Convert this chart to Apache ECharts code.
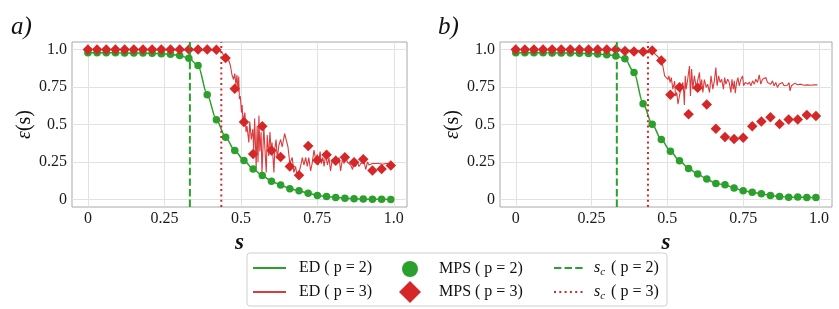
<!DOCTYPE html>
<html><head><meta charset="utf-8">
<script src="https://cdn.jsdelivr.net/npm/echarts@6/dist/echarts.min.js"></script>
<style>html,body{margin:0;padding:0;background:#fff}#c{width:839px;height:309px}</style>
</head><body><div id="c"></div>
<script>
// ---------- data ----------
const sMps = [0,0.03,0.06,0.09,0.12,0.15,0.18,0.21,0.24,0.27,0.30,0.33,0.36,0.39,0.42,0.45,0.48,0.51,0.54,0.57,0.60,0.63,0.66,0.69,0.72,0.75,0.78,0.81,0.84,0.87,0.90,0.93,0.96,0.99];
// panel a
const mps2A = [0.978,0.978,0.978,0.978,0.977,0.977,0.976,0.975,0.972,0.968,0.960,0.942,0.893,0.698,0.531,0.415,0.327,0.260,0.204,0.160,0.122,0.096,0.071,0.058,0.042,0.027,0.020,0.013,0.009,0.005,0.003,0.001,0.001,0.000];
const mps3A = [1,1,1,1,1,1,1,1,1,1,1,1,1,1,0.998,0.943,0.738,0.516,0.304,0.489,0.327,0.284,0.220,0.162,0.356,0.262,0.298,0.258,0.282,0.249,0.269,0.193,0.204,0.227];
const ed2A = [0.978,0.978,0.978,0.978,0.977,0.977,0.976,0.975,0.972,0.968,0.960,0.942,0.893,0.698,0.531,0.415,0.327,0.260,0.204,0.160,0.122,0.096,0.071,0.058,0.042,0.027,0.020,0.013,0.009,0.005,0.003,0.001,0.001,0.000];
const sEd3A = [0,0.43,0.438,0.449,0.46,0.466,0.471,0.476,0.48,0.484,0.487,0.491,0.493,0.495,0.498,0.502,0.504,0.507,0.513,0.517,0.52,0.526,0.529,0.534,0.539,0.542,0.545,0.55,0.553,0.556,0.559,0.562,0.566,0.569,0.575,0.578,0.583,0.586,0.591,0.595,0.599,0.602,0.608,0.611,0.615,0.619,0.624,0.63,0.635,0.643,0.646,0.649,0.654,0.66,0.668,0.673,0.679,0.684,0.69,0.695,0.701,0.706,0.712,0.717,0.722,0.728,0.733,0.739,0.744,0.75,0.753,0.759,0.763,0.768,0.772,0.777,0.783,0.788,0.793,0.799,0.804,0.81,0.815,0.821,0.826,0.832,0.837,0.843,0.848,0.854,0.859,0.865,0.87,0.875,0.881,0.886,0.892,0.897,0.903,0.908,0.914,0.919,0.925,0.93,0.941,0.952,0.963,0.974,0.99];
const ed3A = [1.0,0.995,0.98,0.945,0.93,0.89,0.83,0.80,0.84,0.76,0.83,0.72,0.82,0.67,0.69,0.58,0.63,0.52,0.58,0.45,0.49,0.38,0.52,0.40,0.47,0.32,0.54,0.21,0.49,0.25,0.56,0.32,0.45,0.18,0.49,0.36,0.18,0.43,0.29,0.45,0.32,0.38,0.18,0.34,0.40,0.27,0.36,0.40,0.35,0.44,0.44,0.43,0.35,0.24,0.28,0.18,0.22,0.15,0.18,0.22,0.28,0.23,0.28,0.22,0.28,0.19,0.24,0.33,0.27,0.30,0.23,0.32,0.24,0.28,0.22,0.30,0.23,0.28,0.19,0.27,0.25,0.29,0.24,0.28,0.19,0.27,0.24,0.28,0.25,0.26,0.23,0.20,0.25,0.22,0.25,0.22,0.24,0.25,0.25,0.20,0.25,0.23,0.24,0.24,0.24,0.24,0.235,0.24,0.24];
// panel b
const mps2B = [0.978,0.978,0.978,0.978,0.977,0.977,0.976,0.975,0.973,0.970,0.965,0.957,0.938,0.847,0.638,0.502,0.400,0.321,0.259,0.207,0.170,0.137,0.106,0.099,0.076,0.059,0.049,0.038,0.027,0.020,0.015,0.016,0.013,0.013];
const mps3B = [1,1,1,1,1,1,1,1,1,1,1,1,0.990,0.987,0.985,0.993,0.927,0.698,0.749,0.569,0.745,0.633,0.471,0.416,0.404,0.411,0.489,0.520,0.549,0.504,0.533,0.533,0.564,0.556];
const ed2B = [0.978,0.978,0.978,0.978,0.977,0.977,0.976,0.975,0.973,0.970,0.965,0.957,0.938,0.847,0.638,0.502,0.400,0.321,0.259,0.207,0.170,0.137,0.106,0.099,0.076,0.059,0.049,0.038,0.027,0.020,0.015,0.016,0.013,0.013];
const sEd3B = [0,0.40,0.4085,0.452,0.48,0.485,0.491,0.496,0.502,0.505,0.509,0.513,0.518,0.524,0.527,0.531,0.535,0.538,0.542,0.546,0.551,0.554,0.556,0.559,0.562,0.567,0.573,0.576,0.58,0.584,0.589,0.595,0.60,0.606,0.609,0.613,0.617,0.622,0.628,0.633,0.639,0.644,0.65,0.655,0.66,0.664,0.669,0.674,0.679,0.685,0.689,0.693,0.699,0.704,0.7097,0.713,0.7174,0.7207,0.724,0.7284,0.7328,0.7371,0.7426,0.7481,0.7514,0.7569,0.7612,0.7667,0.77,0.7755,0.781,0.7864,0.7919,0.7974,0.8029,0.8083,0.8138,0.8193,0.8247,0.8302,0.8357,0.8412,0.8466,0.8521,0.8576,0.863,0.8685,0.874,0.8795,0.8849,0.8904,0.8959,0.9013,0.9046,0.909,0.9145,0.921,0.9287,0.9397,0.9506,0.9616,0.9726,0.9835,0.995];
const ed3B = [1.0,0.995,0.991,0.984,0.93,0.89,0.824,0.836,0.80,0.824,0.78,0.813,0.735,0.79,0.69,0.713,0.636,0.67,0.713,0.747,0.78,0.713,0.63,0.824,0.736,0.80,0.89,0.69,0.87,0.736,0.824,0.747,0.76,0.847,0.736,0.80,0.713,0.80,0.747,0.769,0.713,0.824,0.736,0.791,0.88,0.758,0.824,0.78,0.802,0.736,0.813,0.769,0.802,0.78,0.713,0.802,0.736,0.791,0.709,0.78,0.813,0.758,0.802,0.824,0.758,0.78,0.791,0.769,0.784,0.758,0.791,0.769,0.802,0.78,0.831,0.769,0.802,0.791,0.813,0.78,0.791,0.769,0.791,0.758,0.78,0.747,0.769,0.762,0.78,0.758,0.769,0.762,0.78,0.724,0.758,0.769,0.776,0.765,0.769,0.762,0.764,0.762,0.764,0.764];
// critical points
const sc2 = 0.3333, sc3 = 0.436;
const yLim = [-0.05, 1.05];
const xLim = [-0.052, 1.043];
const tickVals = [0, 0.25, 0.5, 0.75, 1.0];
const tickLabels = ['0', '0.25', '0.5', '0.75', '1.0'];

// ---------- chart ----------
const FONT = '"Liberation Serif", "DejaVu Serif", serif';
const GREEN = '#2ca02c', RED = '#d62728';
const pairs = (xs, ys) => xs.map((x, i) => [x, ys[i]]);
const fmt = v => { for (let i = 0; i < tickVals.length; i++) if (Math.abs(v - tickVals[i]) < 1e-6) return tickLabels[i]; return ''; };

const chart = echarts.init(document.getElementById('c'));

function xAx(i) {
  return {
    type: 'value', gridIndex: i, min: xLim[0], max: xLim[1],
    axisLine: { show: false }, axisTick: { show: false, customValues: tickVals },
    axisLabel: { customValues: tickVals, formatter: fmt, fontFamily: FONT, fontSize: 16, color: '#1a1a1a', margin: 4 },
    splitLine: { show: true, lineStyle: { color: '#e2e2e2', width: 1 } },
    name: 's', nameLocation: 'middle', nameGap: 16,
    nameTextStyle: { fontFamily: FONT, fontSize: 23, fontStyle: 'italic', fontWeight: 'bold', color: '#111' }
  };
}
function yAx(i) {
  return {
    type: 'value', gridIndex: i, min: yLim[0], max: yLim[1],
    axisLine: { show: false }, axisTick: { show: false, customValues: tickVals },
    axisLabel: { customValues: tickVals, formatter: fmt, fontFamily: FONT, fontSize: 16, color: '#1a1a1a', margin: 5 },
    splitLine: { show: true, lineStyle: { color: '#e2e2e2', width: 1 } },
    name: '{e|ε}(s)', nameLocation: 'middle', nameGap: 36, nameRotate: 90,
    nameTextStyle: { fontFamily: FONT, fontSize: 20, color: '#111',
      rich: { e: { fontFamily: FONT, fontSize: 20, fontStyle: 'italic', color: '#111' } } }
  };
}
function seriesFor(i, ed2, ed3s, ed3, m2, m3) {
  return [
    { name: 'ED ( p = 2)', type: 'line', xAxisIndex: i, yAxisIndex: i, data: pairs(sMps, ed2),
      symbol: 'none', smooth: 0.3, smoothMonotone: 'x', lineStyle: { color: GREEN, width: 1.5 }, itemStyle: { color: GREEN }, z: 2 },
    { name: 'ED ( p = 3)', type: 'line', xAxisIndex: i, yAxisIndex: i, data: pairs(ed3s, ed3),
      symbol: 'none', lineStyle: { color: RED, width: 1.1, opacity: 0.9 }, itemStyle: { color: RED }, z: 2 },
    { name: 'MPS ( p = 2)', type: 'scatter', xAxisIndex: i, yAxisIndex: i, data: pairs(sMps, m2),
      symbol: 'circle', symbolSize: 7.5, itemStyle: { color: GREEN, opacity: 1 }, z: 3 },
    { name: 'MPS ( p = 3)', type: 'scatter', xAxisIndex: i, yAxisIndex: i, data: pairs(sMps, m3),
      symbol: 'diamond', symbolSize: 10.5, itemStyle: { color: RED, opacity: 1 }, z: 4 },
    { name: 's_c ( p = 2)', type: 'line', xAxisIndex: i, yAxisIndex: i, data: [[sc2, yLim[0]], [sc2, yLim[1]]],
      symbol: 'none', lineStyle: { color: GREEN, width: 2, type: [7.4, 3.2] }, itemStyle: { color: GREEN }, z: 6 },
    { name: 's_c ( p = 3)', type: 'line', xAxisIndex: i, yAxisIndex: i, data: [[sc3, yLim[0]], [sc3, yLim[1]]],
      symbol: 'none', lineStyle: { color: RED, width: 2, type: [2, 3.3] }, itemStyle: { color: RED }, z: 6 }
  ];
}
const legText = { fontFamily: FONT, fontSize: 16, color: '#111', lineHeight: 18,
  rich: { i: { fontFamily: FONT, fontSize: 16, fontStyle: 'italic', color: '#111' },
          sub: { fontFamily: FONT, fontSize: 11, fontStyle: 'italic', color: '#111', padding: [8, 2, 0, 0] } } };
function leg(name, left, top, w, h, pad, isLine) {
  const item = isLine ? { name: name, itemStyle: { opacity: 0 }, lineStyle: { width: 2 } } : { name: name };
  return { data: [item], left: left, top: top, itemWidth: w, itemHeight: h, padding: 0, selectedMode: false,
    formatter: n => n.replace('s_c', '{i|s}{sub|c}'),
    textStyle: Object.assign({}, legText, { padding: [0, 0, 0, pad] }) };
}

chart.setOption({
  animation: false,
  backgroundColor: '#fff',
  title: [
    { text: 'a)', left: 6, top: 10, textStyle: { fontFamily: FONT, fontStyle: 'italic', fontWeight: 'normal', fontSize: 25, color: '#111' } },
    { text: 'b)', left: 433, top: 10, textStyle: { fontFamily: FONT, fontStyle: 'italic', fontWeight: 'normal', fontSize: 25, color: '#111' } }
  ],
  grid: [
    { left: 72, top: 42, width: 335, height: 165, show: true, borderColor: '#a8a8a8', borderWidth: 1 },
    { left: 500, top: 42, width: 332, height: 165, show: true, borderColor: '#a8a8a8', borderWidth: 1 }
  ],
  xAxis: [xAx(0), xAx(1)],
  yAxis: [yAx(0), yAx(1)],
  legend: [
    leg('ED ( p = 2)', 252, 259, 33, 14, 8, true),
    leg('ED ( p = 3)', 252, 283, 33, 14, 8, true),
    leg('MPS ( p = 2)', 402, 260, 16, 16, 16, false),
    leg('MPS ( p = 3)', 399, 281, 22, 22, 13, false),
    leg('s_c ( p = 2)', 553, 259, 30, 14, 5, true),
    leg('s_c ( p = 3)', 553, 283, 30, 14, 5, true)
  ],
  graphic: [
    { type: 'rect', shape: { x: 247, y: 253, width: 420, height: 53, r: 3 }, style: { fill: 'none', stroke: '#d0d0d0', lineWidth: 1 }, z: -1 }
  ],
  series: [].concat(
    seriesFor(0, ed2A, sEd3A, ed3A, mps2A, mps3A),
    seriesFor(1, ed2B, sEd3B, ed3B, mps2B, mps3B)
  )
});
</script>
</body></html>
